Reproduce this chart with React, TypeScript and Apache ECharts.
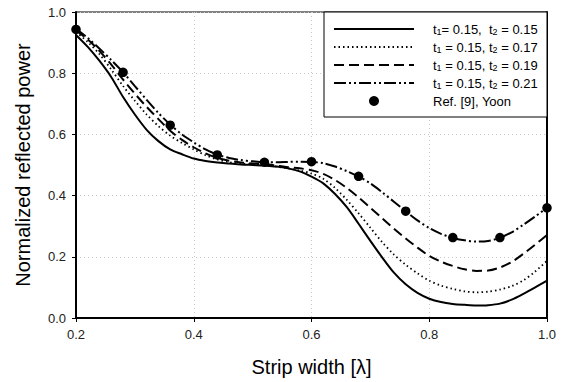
import React, { useEffect, useRef } from "react";
import * as echarts from "echarts";

const stripWidth = [
  0.2, 0.22, 0.24, 0.26, 0.28, 0.3, 0.32, 0.34, 0.36, 0.38, 0.4, 0.42, 0.44, 0.46, 0.48, 0.5,
  0.52, 0.54, 0.56, 0.58, 0.6, 0.62, 0.64, 0.66, 0.68, 0.7, 0.72, 0.74, 0.76, 0.78, 0.8, 0.82,
  0.84, 0.86, 0.88, 0.9, 0.92, 0.94, 0.96, 0.98, 1.0,
];

const t2_015 = [
  0.925, 0.886, 0.84, 0.787, 0.722, 0.665, 0.615, 0.578, 0.551, 0.535, 0.521, 0.513, 0.508, 0.505,
  0.502, 0.5, 0.498, 0.495, 0.489, 0.479, 0.462, 0.44, 0.405, 0.362, 0.308, 0.252, 0.198, 0.148,
  0.11, 0.082, 0.063, 0.052, 0.046, 0.043, 0.041, 0.042, 0.047, 0.06, 0.079, 0.1, 0.122,
];

const t2_017 = [
  0.935, 0.902, 0.862, 0.812, 0.758, 0.71, 0.665, 0.627, 0.596, 0.572, 0.551, 0.532, 0.518, 0.509,
  0.505, 0.502, 0.5, 0.495, 0.489, 0.482, 0.472, 0.455, 0.425, 0.386, 0.342, 0.295, 0.248, 0.207,
  0.174, 0.146, 0.122, 0.106, 0.095, 0.087, 0.084, 0.086, 0.093, 0.104, 0.123, 0.152, 0.187,
];

const t2_019 = [
  0.94, 0.91, 0.872, 0.828, 0.779, 0.733, 0.69, 0.65, 0.612, 0.582, 0.558, 0.538, 0.523, 0.514,
  0.508, 0.505, 0.503, 0.498, 0.493, 0.489, 0.483, 0.471, 0.451, 0.425, 0.394, 0.36, 0.326, 0.292,
  0.26, 0.23, 0.203, 0.184, 0.17, 0.159, 0.154, 0.155, 0.165, 0.183, 0.21, 0.24, 0.271,
];

const t2_021 = [
  0.945, 0.915, 0.88, 0.843, 0.803, 0.758, 0.713, 0.67, 0.632, 0.6, 0.574, 0.551, 0.534, 0.523,
  0.516, 0.512, 0.509, 0.509, 0.51, 0.511, 0.51, 0.506, 0.495, 0.48, 0.462, 0.44, 0.411, 0.38,
  0.349, 0.319, 0.294, 0.275, 0.262, 0.254, 0.25, 0.252, 0.262, 0.28, 0.305, 0.332, 0.36,
];

const refX = [0.2, 0.28, 0.36, 0.44, 0.52, 0.6, 0.68, 0.76, 0.84, 0.92, 1.0];
const refY = [0.943, 0.803, 0.63, 0.533, 0.509, 0.511, 0.463, 0.349, 0.263, 0.263, 0.36];

const seriesNames = [
  "t1= 0.15,  t2 = 0.15",
  "t1 = 0.15, t2 = 0.17",
  "t1 = 0.15, t2 = 0.19",
  "t1 = 0.15, t2 = 0.21",
  "Ref. [9], Yoon",
];

const legendRich = [
  "{a|t}{s|1}{a|= 0.15,  t}{s|2}{a| = 0.15}",
  "{a|t}{s|1}{a| = 0.15, t}{s|2}{a| = 0.17}",
  "{a|t}{s|1}{a| = 0.15, t}{s|2}{a| = 0.19}",
  "{a|t}{s|1}{a| = 0.15, t}{s|2}{a| = 0.21}",
  "{a|Ref. [9], Yoon}",
];

const FONT = "'Liberation Sans', Arial, Helvetica, sans-serif";

const pair = (xs: number[], ys: number[]) => xs.map((x, i) => [x, ys[i]]);

export default function App() {
  const ref = useRef<HTMLDivElement>(null);
  useEffect(() => {
    if (!ref.current) return;
    const chart = echarts.init(ref.current, undefined, { renderer: "svg" });
    const curves = [t2_015, t2_017, t2_019, t2_021];
    const dashes: any[] = ["solid", [1.5, 3], [10, 5], [12, 3, 2, 3, 2, 3]];
    const widths = [2, 1.8, 2, 2];
    chart.setOption({
      animation: false,
      color: ["#000"],
      textStyle: { fontFamily: FONT },
      grid: {
        left: 76,
        right: 19,
        top: 12,
        bottom: 61,
        show: true,
        borderColor: "#000",
        borderWidth: 1,
        backgroundColor: "transparent",
      },
      legend: {
        orient: "vertical",
        left: 333,
        top: 22,
        itemWidth: 80,
        itemHeight: 10,
        itemGap: 4,
        padding: 0,
        data: seriesNames.map((n, i) =>
          i < 4
            ? { name: n, itemStyle: { opacity: 0 } }
            : { name: n, icon: "circle", itemStyle: { opacity: 1, color: "#000" } }
        ),
        formatter: (name: string) => legendRich[seriesNames.indexOf(name)],
        textStyle: {
          fontFamily: FONT,
          fontSize: 13,
          color: "#000",
          lineHeight: 14,
          padding: [0, 0, 0, 14],
          rich: {
            a: { fontFamily: FONT, fontSize: 13, color: "#000", lineHeight: 14 },
            s: { fontFamily: FONT, fontSize: 9, color: "#000", verticalAlign: "bottom", lineHeight: 10 },
          },
        },
      },
      graphic: [
        {
          type: "rect",
          z: 3,
          shape: { x: 324, y: 12, width: 223, height: 105 },
          style: { fill: "#fff", stroke: "#000", lineWidth: 1 },
        },
      ],
      xAxis: {
        type: "value",
        min: 0.2,
        max: 1.0,
        interval: 0.2,
        name: "Strip width [λ]",
        nameLocation: "middle",
        nameGap: 39,
        nameTextStyle: { fontFamily: FONT, fontSize: 20, color: "#000" },
        axisLine: { show: true, onZero: false, lineStyle: { color: "#000", width: 2 } },
        axisTick: { show: true, inside: false, length: 4, lineStyle: { color: "#000", width: 1 } },
        axisLabel: {
          fontFamily: FONT,
          fontSize: 13,
          color: "#222",
          margin: 10,
          formatter: (v: number) => v.toFixed(1),
        },
        splitLine: { show: true, lineStyle: { color: "#c8c8c8", type: [1, 3], width: 1 } },
      },
      yAxis: [
        {
          type: "value",
          min: 0,
          max: 1.0,
          interval: 0.2,
          name: "Normalized reflected power",
          nameLocation: "middle",
          nameGap: 43,
          nameTextStyle: { fontFamily: FONT, fontSize: 20, color: "#000" },
          axisLine: { show: true, onZero: false, lineStyle: { color: "#000", width: 2 } },
          axisTick: { show: true, inside: false, length: 4, lineStyle: { color: "#000", width: 1 } },
          axisLabel: {
            fontFamily: FONT,
            fontSize: 13,
            color: "#222",
            margin: 10,
            formatter: (v: number) => v.toFixed(1),
          },
          splitLine: { show: true, lineStyle: { color: "#c8c8c8", type: [1, 3], width: 1 } },
        },
        {
          type: "value",
          position: "right",
          min: 0,
          max: 1.0,
          interval: 0.2,
          axisLine: { show: true, onZero: false, lineStyle: { color: "#000", width: 2 } },
          axisTick: { show: false },
          axisLabel: { show: false },
          splitLine: { show: false },
        },
      ],
      series: [
        ...curves.map((c, i) => ({
          name: seriesNames[i],
          type: "line",
          data: pair(stripWidth, c),
          smooth: 0.3,
          symbol: "none",
          showSymbol: false,
          z: 2,
          lineStyle: { color: "#000", width: widths[i], type: dashes[i] },
          itemStyle: { color: "#000" },
        })),
        {
          name: seriesNames[4],
          type: "scatter",
          data: pair(refX, refY),
          symbol: "circle",
          symbolSize: 9.5,
          z: 5,
          itemStyle: { color: "#000", opacity: 1 },
        },
      ],
    });
    return () => chart.dispose();
  }, []);
  return (
    <div
      ref={ref}
      style={{ position: "absolute", left: 0, top: 0, width: 566, height: 382 }}
    />
  );
}
